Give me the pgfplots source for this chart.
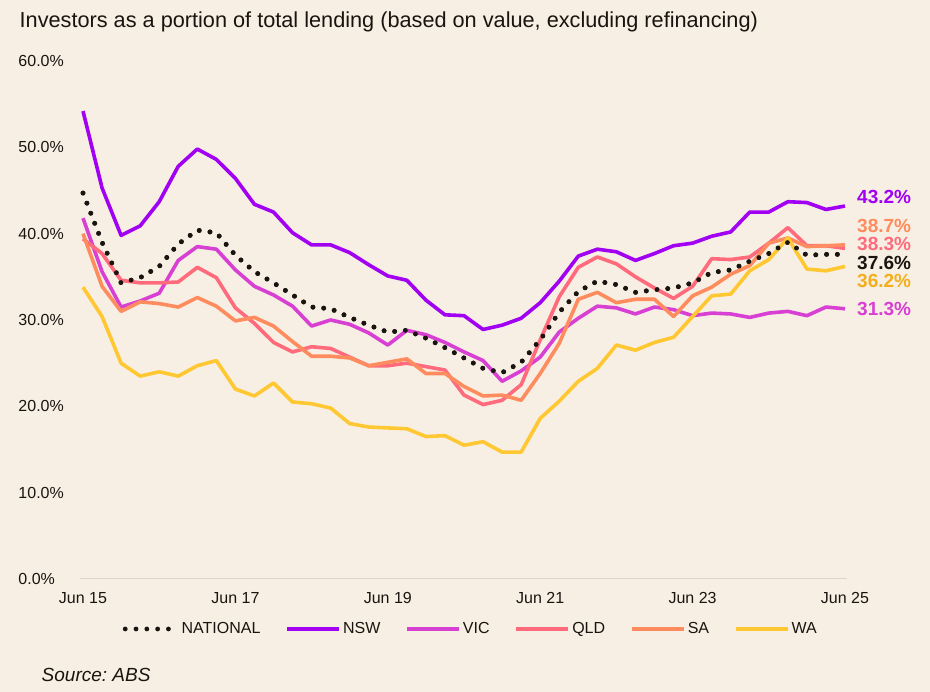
\documentclass[border=0pt]{standalone}
\usepackage{fontspec}
\setmainfont{Liberation Sans}
\usepackage{pgfplots}
\pgfplotsset{compat=1.18}
\usepackage{pgfplotstable}

\definecolor{bg}{HTML}{F7EFE3}
\definecolor{ink}{HTML}{1A1410}
\definecolor{nsw}{HTML}{A100F2}
\definecolor{vic}{HTML}{D83FD3}
\definecolor{qld}{HTML}{FF6B7C}
\definecolor{sa}{HTML}{FF8C5E}
\definecolor{wa}{HTML}{FFC832}
\definecolor{walbl}{HTML}{F2AE1C}
\definecolor{zeroline}{HTML}{DDD5CA}

% quarterly, q=0 is Jun 15, q=40 is Jun 25
\pgfplotstableread{
q  nat   nsw   vic   qld   sa    wa
0  44.7  54.2  41.8  39.4  40.0  33.8
1  39.0  45.3  35.6  37.7  33.9  30.4
2  34.3  39.8  31.5  34.6  31.0  25.0
3  34.9  40.9  32.2  34.3  32.1  23.5
4  36.2  43.7  33.1  34.3  31.9  24.0
5  38.8  47.8  36.9  34.4  31.5  23.5
6  40.4  49.8  38.5  36.1  32.6  24.7
7  40.1  48.6  38.2  34.9  31.6  25.3
8  37.5  46.4  35.8  31.4  29.9  22.0
9  35.6  43.4  33.9  29.6  30.3  21.2
10 34.3  42.5  32.9  27.4  29.3  22.7
11 32.9  40.1  31.6  26.3  27.5  20.5
12 31.5  38.7  29.3  26.9  25.8  20.3
13 31.3  38.7  30.0  26.7  25.8  19.8
14 30.3  37.8  29.5  25.7  25.6  18.0
15 29.4  36.4  28.5  24.7  24.7  17.6
16 28.6  35.1  27.1  24.7  25.1  17.5
17 28.8  34.6  28.8  25.0  25.5  17.4
18 27.9  32.3  28.3  24.6  23.8  16.5
19 26.8  30.6  27.4  24.2  23.8  16.6
20 25.6  30.5  26.3  21.3  22.3  15.5
21 24.4  28.9  25.3  20.2  21.2  15.9
22 23.9  29.4  22.9  20.7  21.3  14.7
23 25.1  30.2  24.1  22.5  20.7  14.7
24 27.7  32.0  25.7  27.7  23.8  18.6
25 30.9  34.5  28.6  32.7  27.3  20.6
26 33.3  37.4  30.2  36.1  32.4  22.9
27 34.5  38.2  31.6  37.3  33.2  24.4
28 34.1  37.9  31.4  36.5  32.0  27.1
29 33.2  36.9  30.7  35.0  32.4  26.5
30 33.5  37.7  31.5  33.7  32.4  27.4
31 33.7  38.6  31.2  32.5  30.4  28.0
32 34.3  38.9  30.5  33.9  32.8  30.4
33 35.5  39.7  30.8  37.1  33.8  32.8
34 35.8  40.2  30.7  37.0  35.3  33.0
35 36.8  42.5  30.3  37.3  36.3  35.7
36 37.7  42.5  30.8  38.9  38.9  37.0
37 39.0  43.7  31.0  40.7  39.5  39.5
38 37.5  43.6  30.5  38.6  38.5  35.9
39 37.6  42.8  31.5  38.6  38.6  35.7
40 37.6  43.2  31.3  38.3  38.7  36.2
}\lending

\frenchspacing
\begin{document}
\begin{tikzpicture}[x=1pt,y=1pt]
\fill[bg] (0,0) rectangle (930,692);
\node[anchor=base west, inner sep=0pt, text=ink, font=\fontsize{21.7}{26}\selectfont]
  at (19.5,664) {Investors as a portion of total lending (based on value, excluding refinancing)};
\node[anchor=base west, inner sep=0pt, text=ink, font=\fontsize{19}{23}\selectfont\itshape]
  at (41.5,10) {Source: ABS};
\begin{axis}[
  at={(83pt,113pt)}, anchor=south west,
  scale only axis, width=762pt, height=518pt,
  xmin=0, xmax=40, ymin=0, ymax=60,
  clip=false,
  axis line style={draw=none},
  major tick length=0pt,
  tick style={draw=none},
  /pgf/number format/assume math mode=true,
  xtick={0,8,16,24,32,40},
  xticklabels={Jun 15,Jun 17,Jun 19,Jun 21,Jun 23,Jun 25},
  ytick={0,10,20,30,40,50,60},
  yticklabels={0.0\%,10.0\%,20.0\%,30.0\%,40.0\%,50.0\%,60.0\%},
  tick label style={text=ink, font=\fontsize{16}{19}\selectfont, inner sep=0pt},
  xticklabel style={anchor=north, yshift=-13pt},
  yticklabel style={anchor=west, xshift=-64.7pt},
  legend columns=6,
  legend cell align=left,
  legend style={draw=none, fill=none, at={(0.509,-0.0965)}, anchor=center,
    font=\fontsize{16}{19}\selectfont, text=ink,
    /tikz/every even column/.append style={column sep=23pt}},
  legend image code/.code={\draw[#1] (0pt,0pt) -- (52pt,0pt);},
  every axis plot/.append style={line width=3.6pt, line join=round},
]
\draw[zeroline, line width=1pt] (axis cs:-0.15,0) -- (axis cs:40.1,0);

\addplot[ink, line cap=round, dash pattern=on 0pt off 10.8pt, line width=4.8pt] table[x=q,y=nat] {\lending};
\addlegendentry{NATIONAL}
\addplot[nsw] table[x=q,y=nsw] {\lending};
\addlegendentry{NSW}
\addplot[vic] table[x=q,y=vic] {\lending};
\addlegendentry{VIC}
\addplot[qld] table[x=q,y=qld] {\lending};
\addlegendentry{QLD}
\addplot[sa] table[x=q,y=sa] {\lending};
\addlegendentry{SA}
\addplot[wa] table[x=q,y=wa] {\lending};
\addlegendentry{WA}
% national dots again, on top of the state lines
\addplot[ink, line cap=round, dash pattern=on 0pt off 10.8pt, line width=4.8pt, forget plot] table[x=q,y=nat] {\lending};

\begin{scope}[every node/.style={anchor=west, inner sep=0pt, xshift=12pt,
    font=\fontsize{19}{22}\bfseries}]
\node[text=nsw]   at (axis cs:40,44.25) {43.2\%};
\node[text=sa]    at (axis cs:40,40.92) {38.7\%};
\node[text=qld]   at (axis cs:40,38.80) {38.3\%};
\node[text=ink]   at (axis cs:40,36.57) {37.6\%};
\node[text=walbl] at (axis cs:40,34.48) {36.2\%};
\node[text=vic]   at (axis cs:40,31.27) {31.3\%};
\end{scope}
\end{axis}
\end{tikzpicture}
\end{document}
